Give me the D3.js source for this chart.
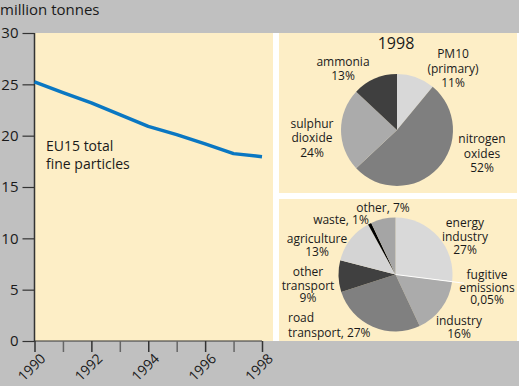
<!DOCTYPE html>
<html><head><meta charset="utf-8">
<script src="https://cdn.jsdelivr.net/npm/d3@7"></script>
<style>body{margin:0;background:#c0c0c0}svg{display:block}text{font-family:"Open Sans",sans-serif;fill:#1a1a1a}</style>
</head><body>
<svg id="c" width="519" height="386"></svg>
<script>
// Data
const years = [1990,1991,1992,1993,1994,1995,1996,1997,1998];
const totals = [25.25,24.2,23.2,22.05,20.9,20.1,19.2,18.25,17.95];
const yTicks = [0,5,10,15,20,25,30];
const xLabels = [1990,1992,1994,1996,1998];

const pollutants = ["PM10 (primary)","nitrogen oxides","sulphur dioxide","ammonia"];
const pollutantShares = [11,52,24,13];
const pollutantColors = ["#d8d8d8","#7f7f7f","#ababab","#3f3f3f"];

const sectors = ["energy industry","fugitive emissions","industry","road transport","other transport","agriculture","waste","other"];
const sectorShares = [27,0.05,16,27,9,13,1,7];
const sectorColors = ["#d9d9d9","#ffffff","#ababab","#808080","#404040","#d4d4d4","#000000","#a5a5a5"];

const svg = d3.select("#c");
const cream = "#fdeec6";

// background panels
svg.append("rect").attr("x",0).attr("y",0).attr("width",519).attr("height",386).attr("fill","#c0c0c0");
svg.append("rect").attr("x",273).attr("y",33).attr("width",246).attr("height",308).attr("fill","#ffffff");
svg.append("rect").attr("x",35).attr("y",33).attr("width",238).attr("height",308).attr("fill",cream);
svg.append("rect").attr("x",279).attr("y",33).attr("width",238).attr("height",160).attr("fill",cream);
svg.append("rect").attr("x",279).attr("y",199).attr("width",238).attr("height",142).attr("fill",cream);

// scales
const x = d3.scaleLinear().domain([1990,1998]).range([34.5,262]);
const y = d3.scaleLinear().domain([0,30]).range([341,33]);

svg.append("text").attr("x",0).attr("y",15).attr("font-size",15).text("million tonnes");

// y axis
const yAxis = svg.append("g").attr("transform","translate(34.5,0)")
  .call(d3.axisLeft(y).tickValues(yTicks).tickSize(12).tickPadding(4));
yAxis.select(".domain").remove();
yAxis.selectAll(".tick line").attr("stroke","#333").attr("stroke-width",1.2);
yAxis.selectAll(".tick text").attr("font-size",15).attr("font-family","Open Sans").attr("fill","#1a1a1a");
svg.append("line").attr("x1",34.5).attr("x2",34.5).attr("y1",33).attr("y2",341.5).attr("stroke","#333").attr("stroke-width",1.5);
svg.append("line").attr("x1",34.5).attr("x2",262).attr("y1",341).attr("y2",341).attr("stroke","#333").attr("stroke-width",1.2);

// x axis
const xAxis = svg.append("g").attr("transform","translate(0,341)")
  .call(d3.axisBottom(x).tickValues(years).tickSize(11).tickFormat(d => xLabels.includes(d) ? d : ""));
xAxis.select(".domain").remove();
xAxis.selectAll(".tick line").attr("stroke",d => xLabels.includes(d) ? "#333" : "#666").attr("stroke-width",1.5);
xAxis.selectAll(".tick text").attr("font-size",14).attr("font-family","Open Sans").attr("fill","#1a1a1a")
  .attr("text-anchor","end").attr("transform","translate(8,15) rotate(-45)").attr("dy","0.35em").attr("y",0).attr("x",0);

// line
svg.append("path").datum(years.map((yr,i)=>[yr,totals[i]]))
  .attr("fill","none").attr("stroke","#0a77c2").attr("stroke-width",3.5).attr("stroke-linejoin","round")
  .attr("d", d3.line().x(d=>x(d[0])).y(d=>y(d[1])));

const lbl = svg.append("text").attr("x",46).attr("font-size",14);
lbl.append("tspan").attr("x",46).attr("y",151).text("EU15 total");
lbl.append("tspan").attr("x",46).attr("y",169).text("fine particles");

// pies
const pie = d3.pie().sort(null).value(d=>d);
function drawPie(cx,cy,r,vals,cols){
  const g = svg.append("g").attr("transform",`translate(${cx},${cy})`);
  const arc = d3.arc().innerRadius(0).outerRadius(r);
  const arcs = pie(vals);
  g.selectAll("path").data(arcs).join("path").attr("d",arc).attr("fill",(d,i)=>cols[i]);
  return {g,arcs};
}
drawPie(397,130,56,pollutantShares,pollutantColors);
const p2 = drawPie(395.5,274.5,57,sectorShares,sectorColors);
// fugitive emissions leader
const fa = (p2.arcs[1].startAngle+p2.arcs[1].endAngle)/2;
p2.g.append("line").attr("x1",0).attr("y1",0)
  .attr("x2",Math.sin(fa)*69).attr("y2",-Math.cos(fa)*69).attr("stroke","#fff").attr("stroke-width",1);

svg.append("text").attr("x",396).attr("y",49).attr("font-size",16).attr("text-anchor","middle").text("1998");

function multi(xp,ys,lines,anchor){
  const t = svg.append("text").attr("font-size",12).attr("text-anchor",anchor||"middle");
  lines.forEach((s,i)=>t.append("tspan").attr("x",xp).attr("y",ys[i]).text(s));
}
multi(343,[66,80],["ammonia","13%"]);
multi(453,[58,72.5,87],["PM10","(primary)","11%"]);
multi(312,[128,142,156.5],["sulphur","dioxide","24%"]);
multi(482,[143,157.5,172],["nitrogen","oxides","52%"]);

multi(383,[212],["other, 7%"]);
multi(341,[224],["waste, 1%"]);
multi(317,[242.5,256],["agriculture","13%"]);
multi(308,[276,289.5,302],["other","transport","9%"]);
multi(288,[322,337],["road","transport, 27%"],"start");
multi(465,[227,240.5,254],["energy","industry","27%"]);
multi(487,[278.5,292,304],["fugitive","emissions","0,05%"]);
multi(459,[325,338],["industry","16%"]);
</script>
</body></html>
